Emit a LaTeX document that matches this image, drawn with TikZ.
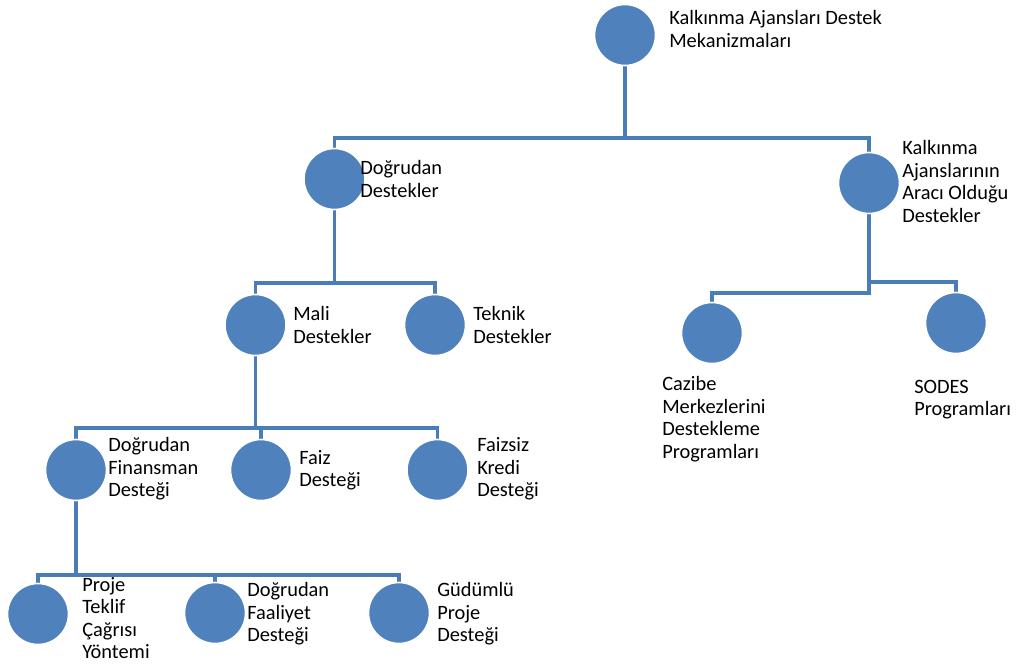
\documentclass[tikz,border=0pt]{standalone}
\usepackage{fontspec}
\setmainfont{Carlito}
\usetikzlibrary{backgrounds}
\definecolor{accent}{HTML}{4F81BD}
\definecolor{conncol}{HTML}{4A7CB8}
\begin{document}
\begin{tikzpicture}[x=0.75pt,y=-0.75pt,
  bub/.style={circle,fill=accent,draw=white,line width=1.2pt,minimum size=45.75pt,inner sep=0pt},
  lbl/.style={anchor=west,align=left,inner sep=0pt,text=black,font=\fontsize{15.3}{16.9}\selectfont},
  conn/.style={draw=conncol,line width=2.3pt}]
\useasboundingbox (0,0) rectangle (1017,664);

% circles
\node[bub] (c0) at (625,35) {};
\node[bub] (c1) at (334.5,179) {};
\node[bub] (c2) at (869,183) {};
\node[bub] (c3) at (712,333) {};
\node[bub] (c4) at (956,323) {};
\node[bub] (c5) at (255.5,325) {};
\node[bub] (c6) at (435,325) {};
\node[bub] (c7) at (76,470) {};
\node[bub] (c8) at (261,470) {};
\node[bub] (c9) at (437.5,470) {};
\node[bub] (c10) at (38,614) {};
\node[bub] (c11) at (215,613) {};
\node[bub] (c12) at (399,613) {};

% labels
\node[lbl] (t0) at (669,29) {Kalkınma Ajansları Destek\\Mekanizmaları};
\node[lbl] (t1) at (360,179) {Doğrudan\\Destekler};
\node[lbl] (t2) at (902,181.5) {Kalkınma\\Ajanslarının\\Aracı Olduğu\\Destekler};
\node[lbl] (t3) at (662,419) {Cazibe\\Merkezlerini\\Destekleme\\Programları};
\node[lbl] (t4) at (914,399.5) {SODES\\Programları};
\node[lbl] (t5) at (293,325) {Mali\\Destekler};
\node[lbl] (t6) at (473,325) {Teknik\\Destekler};
\node[lbl] (t7) at (108,469) {Doğrudan\\Finansman\\Desteği};
\node[lbl] (t8) at (299,470) {Faiz\\Desteği};
\node[lbl] (t9) at (477,469) {Faizsiz\\Kredi\\Desteği};
\node[lbl] (t10) at (82,618) {Proje\\Teklif\\Çağrısı\\Yöntemi};
\node[lbl] (t11) at (247,614) {Doğrudan\\Faaliyet\\Desteği};
\node[lbl] (t12) at (437,614) {Güdümlü\\Proje\\Desteği};

% bus levels
\coordinate (y0) at (0,138);
\coordinate (y2a) at (0,293);
\coordinate (y2b) at (0,282);
\coordinate (y1) at (0,283);
\coordinate (y5) at (0,428);
\coordinate (y7) at (0,575);

\begin{scope}[on background layer]
\draw[conn] (c0) -- (c0 |- y0) -| (c1);
\draw[conn] (c0 |- y0) -| (c2);
\draw[conn] (c2) -- (c2 |- y2a) -| (c3);
\draw[conn] (c2 |- y2b) -| (c4);
\draw[conn] (c1) -- (c1 |- y1) -| (c5);
\draw[conn] (c1 |- y1) -| (c6);
\draw[conn] (c5) -- (c5 |- y5) -| (c7);
\draw[conn] (c5 |- y5) -| (c8);
\draw[conn] (c5 |- y5) -| (c9);
\draw[conn] (c7) -- (c7 |- y7) -| (c10);
\draw[conn] (c7 |- y7) -| (c11);
\draw[conn] (c7 |- y7) -| (c12);
\end{scope}
\end{tikzpicture}
\end{document}
